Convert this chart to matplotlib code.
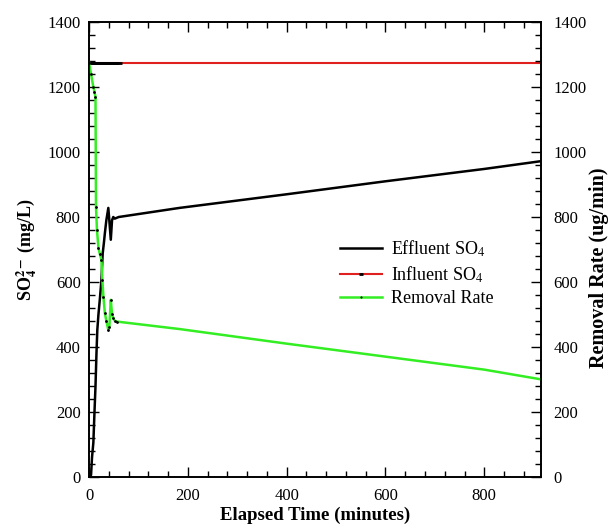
import numpy as np
import matplotlib.pyplot as plt
from matplotlib.ticker import MultipleLocator

# ------------------------------------------------------------
# Data
# ------------------------------------------------------------

effluent_time = [0, 4, 6, 8.7, 11, 13, 15, 16.7, 19, 22, 25, 27.6, 30, 32, 35, 39,
                 41, 44, 46.5, 49, 52, 60, 183, 400, 600, 800, 915]
effluent_so4 = [0, 5, 60, 105, 200, 278, 380, 452, 500, 550, 605, 688, 720, 750, 790, 828,
                790, 730, 790, 800, 795, 800, 828, 870, 910, 948, 972]

influent_time = [0, 5, 10, 15, 20, 25, 30, 35, 40, 45, 50, 55, 60, 915]
influent_so4 = [1275, 1275, 1275, 1275, 1275, 1275, 1275, 1275, 1275, 1275, 1275, 1275, 1275, 1275]

removal_time = [0, 4, 8.7, 11, 13, 14, 16, 19, 22, 25, 27, 29, 32, 35, 39,
                41, 44, 46.5, 49, 52, 56, 183, 400, 600, 800, 915]
removal_rate = [1275, 1240, 1200, 1185, 1170, 832, 760, 705, 685, 668, 605, 555, 504, 480, 452,
                460, 545, 500, 489, 480, 478, 455, 410, 370, 330, 300]

X_LIM = (0, 915)
Y_LIM = (0, 1400)


def main():
    plt.rcParams["font.family"] = ["Liberation Serif", "DejaVu Serif"]
    plt.rcParams["mathtext.fontset"] = "stix"

    fig = plt.figure(figsize=(6.1, 5.28), dpi=100)
    ax = fig.add_axes([0.146, 0.097, 0.741, 0.861])
    ax2 = ax.twinx()

    ax.plot(effluent_time, effluent_so4, color="black", lw=1.8, label="Effluent SO$_4$")
    ax.plot(influent_time, influent_so4, color="#e0201e", lw=1.5, marker="_", ms=5,
            mec="black", mew=2, markevery=list(range(len(influent_time) - 1)),
            label="Influent SO$_4$")
    ax2.plot(removal_time, removal_rate, color="#33ee22", lw=1.8, marker=".", ms=2,
             mec="black", mfc="black", markevery=list(range(len(removal_time) - 5)),
             label="Removal Rate")

    ax.set_xlim(*X_LIM)
    ax.set_ylim(*Y_LIM)
    ax2.set_ylim(*Y_LIM)

    for a in (ax, ax2):
        a.xaxis.set_major_locator(MultipleLocator(200))
        a.xaxis.set_minor_locator(MultipleLocator(40))
        a.yaxis.set_major_locator(MultipleLocator(200))
        a.yaxis.set_minor_locator(MultipleLocator(40))
        a.tick_params(which="both", direction="in", top=True, labelsize=12)
        a.tick_params(which="major", length=7, width=1)
        a.tick_params(which="minor", length=4, width=1)
        for s in a.spines.values():
            s.set_linewidth(1.2)

    ax.tick_params(right=False, which="both")
    ax.tick_params(axis="y", pad=6)
    ax.tick_params(axis="x", pad=8)
    ax2.tick_params(left=False, which="both", pad=9)

    ax.set_xlabel("Elapsed Time (minutes)", fontsize=13.5, fontweight="bold", labelpad=2)
    ax.set_ylabel("SO$_\\mathbf{4}^\\mathbf{2-}$ (mg/L)", fontsize=13, fontweight="bold",
                  labelpad=6)
    ax2.set_ylabel("Removal Rate (ug/min)", fontsize=14.5, fontweight="bold")
    ax2.yaxis.set_label_coords(1.105, 0.46)

    handles = ax.get_lines() + ax2.get_lines()
    ax.legend(handles, [h.get_label() for h in handles], loc="upper left",
              bbox_to_anchor=(0.52, 0.56), frameon=False, fontsize=13,
              handlelength=2.3, handletextpad=0.5, labelspacing=0.3, numpoints=1,
              markerscale=0.5)

    fig.savefig("out.png", dpi=100)


if __name__ == "__main__":
    main()
